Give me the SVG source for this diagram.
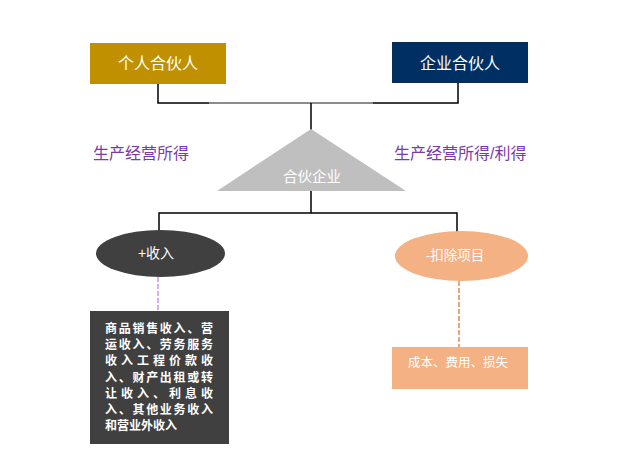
<svg xmlns="http://www.w3.org/2000/svg" width="634" height="474" viewBox="0 0 634 474">
<style>
.t{font-family:"Liberation Sans","Noto Sans CJK SC",sans-serif;fill:#fff;text-anchor:middle;dominant-baseline:central}
.lbl{font-family:"Liberation Sans","Noto Sans CJK SC",sans-serif;fill:#7A3AAA;font-size:16px;dominant-baseline:central}
.ln{stroke:#000;stroke-width:1.5;fill:none}
.bt{font-family:"Liberation Sans","Noto Sans CJK SC",sans-serif;fill:#fff;font-size:12px;font-weight:bold;dominant-baseline:central}
</style>
<rect width="634" height="474" fill="#fff"/>
<g id="connectors">
<path class="ln" d="M158 84V103H458V83"/>
<line x1="209" y1="103" x2="373" y2="103" stroke="#a6a6a6" stroke-width="1.5"/>
<path class="ln" d="M311 103V130"/>
<path class="ln" d="M311 191V213M159 231V213H457V232"/>
<line x1="158" y1="277" x2="158" y2="311" stroke="#C080FF" stroke-width="1.3" stroke-dasharray="5,2"/>
<line x1="459" y1="281" x2="459" y2="347" stroke="#E07830" stroke-width="1.3" stroke-dasharray="5,2"/>
</g>
<g id="n-individual">
<rect x="90" y="43" width="136" height="41" fill="#C09000"/>
<text class="t" x="158" y="63" font-size="16">个人合伙人</text>
</g>
<g id="n-corporate">
<rect x="392.5" y="42.5" width="135" height="40" fill="#003063" stroke="#0d2b57"/>
<text class="t" x="460" y="63" font-size="16">企业合伙人</text>
</g>
<g id="lbl-left"><text class="lbl" x="93" y="153">生产经营所得</text></g>
<g id="lbl-right"><text class="lbl" x="394" y="153">生产经营所得/利得</text></g>
<g id="n-partnership">
<polygon points="311,129 217,191 406,191" fill="#BFBFBF"/>
<text class="t" x="312" y="177" font-size="14.5">合伙企业</text>
</g>
<g id="n-income">
<ellipse cx="160.5" cy="253.5" rx="64.5" ry="23.5" fill="#404040"/>
<text class="t" x="156" y="253" font-size="14">+收入</text>
</g>
<g id="n-deduct">
<ellipse cx="461.5" cy="256" rx="66.5" ry="25" fill="#F4B183"/>
<text class="t" x="455" y="255" font-size="13.5">-扣除项目</text>
</g>
<g id="n-income-detail">
<rect x="90" y="311" width="139" height="133" fill="#404040"/>
<text class="bt" x="105" y="329" textLength="108" lengthAdjust="spacing">商品销售收入、营</text>
<text class="bt" x="105" y="345" textLength="108" lengthAdjust="spacing">运收入、劳务服务</text>
<text class="bt" x="105" y="361" textLength="108" lengthAdjust="spacing">收入工程价款收</text>
<text class="bt" x="105" y="378" textLength="108" lengthAdjust="spacing">入、财产出租或转</text>
<text class="bt" x="105" y="394" textLength="108" lengthAdjust="spacing">让收入、利息收</text>
<text class="bt" x="105" y="410" textLength="108" lengthAdjust="spacing">入、其他业务收入</text>
<text class="bt" x="105" y="426">和营业外收入</text>
</g>
<g id="n-deduct-detail">
<rect x="392" y="347" width="136" height="42" fill="#F4B183"/>
<text class="t" x="458" y="363" font-size="12.5">成本、费用、损失</text>
</g>
</svg>
